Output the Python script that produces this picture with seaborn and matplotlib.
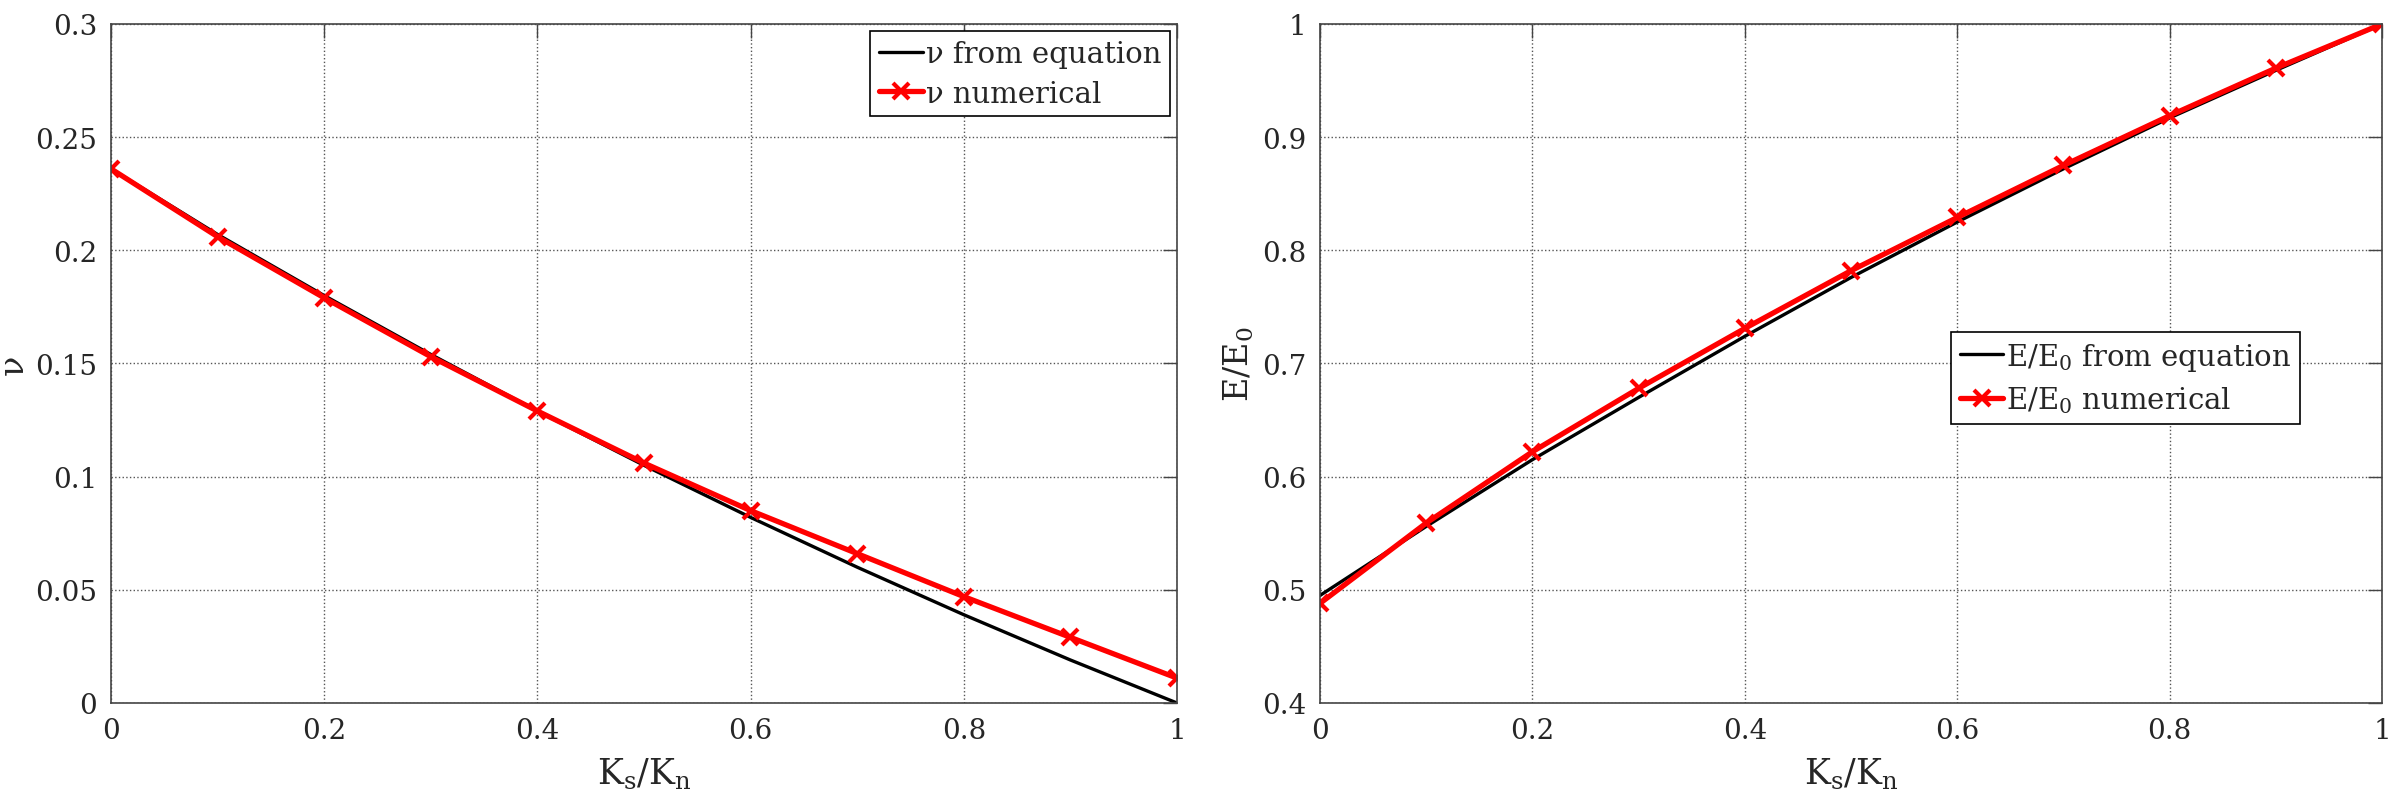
import numpy as np
import pandas as pd
import matplotlib.pyplot as plt
from matplotlib.ticker import FuncFormatter
import seaborn as sns

# Data
ks_kn = [0.0, 0.1, 0.2, 0.3, 0.4, 0.5, 0.6, 0.7, 0.8, 0.9, 1.0]
nu_equation = [0.236, 0.207, 0.180, 0.154, 0.129, 0.105, 0.082, 0.060, 0.039, 0.019, 0.0]
nu_numerical = [0.236, 0.206, 0.179, 0.153, 0.129, 0.106, 0.085, 0.066, 0.047, 0.029, 0.011]
e_equation = [0.495, 0.556, 0.615, 0.670, 0.724, 0.776, 0.825, 0.872, 0.917, 0.959, 1.0]
e_numerical = [0.488, 0.559, 0.622, 0.678, 0.731, 0.782, 0.829, 0.875, 0.919, 0.961, 1.0]

sns.set_style("white")
plt.rcParams["font.family"] = ["DejaVu Serif"]
plt.rcParams["mathtext.fontset"] = "dejavuserif"
plt.rcParams["font.size"] = 20

df = pd.DataFrame({
    "k": ks_kn,
    "nu_eq": nu_equation,
    "nu_num": nu_numerical,
    "e_eq": e_equation,
    "e_num": e_numerical,
})

fig = plt.figure(figsize=(24.03, 8.03), dpi=100)
ax1 = fig.add_axes([0.0462, 0.1233, 0.4436, 0.8456])
ax2 = fig.add_axes([0.5493, 0.1233, 0.4420, 0.8456])

fmt = FuncFormatter(lambda v, p: "%g" % round(v, 4))


def style_axis(ax, yticks):
    ax.set_xlim(0, 1)
    ax.set_xticks(np.arange(0, 1.01, 0.2))
    ax.set_ylim(yticks[0], yticks[-1])
    ax.set_yticks(yticks)
    ax.xaxis.set_major_formatter(fmt)
    ax.yaxis.set_major_formatter(fmt)
    ax.grid(True, linestyle=":", color="#555555", linewidth=1.0)
    ax.tick_params(direction="in", length=10, width=1, color="#444444",
                   top=True, right=True, labelsize=20, pad=10)
    for s in ax.spines.values():
        s.set_color("#444444")
        s.set_linewidth(1.2)
    ax.set_xlabel(r"$\mathregular{K_s/K_n}$", fontsize=25, labelpad=9)


# Poisson's ratio
sns.lineplot(data=df, x="k", y="nu_eq", ax=ax1, color="black", linewidth=2.4,
             label="ν from equation")
sns.lineplot(data=df, x="k", y="nu_num", ax=ax1, color="red", linewidth=3.8,
             marker="x", markersize=11, markeredgewidth=3, markeredgecolor="red",
             label="ν numerical")
style_axis(ax1, np.round(np.arange(0, 0.301, 0.05), 2))
ax1.set_ylabel("ν", fontsize=24, labelpad=4)
leg1 = ax1.legend(loc="upper right", borderaxespad=0.25, fontsize=21,
                  handlelength=1.5, handletextpad=0.1, borderpad=0.3,
                  labelspacing=0.4, fancybox=False, framealpha=1,
                  edgecolor="black")
leg1.get_frame().set_linewidth(1.2)

# Young's modulus ratio
sns.lineplot(data=df, x="k", y="e_eq", ax=ax2, color="black", linewidth=2.4,
             label=r"$\mathregular{E/E_0}$ from equation")
sns.lineplot(data=df, x="k", y="e_num", ax=ax2, color="red", linewidth=3.8,
             marker="x", markersize=11, markeredgewidth=3, markeredgecolor="red",
             label=r"$\mathregular{E/E_0}$ numerical")
style_axis(ax2, np.round(np.arange(0.4, 1.001, 0.1), 1))
ax2.set_ylabel(r"$\mathregular{E/E_0}$", fontsize=24, labelpad=4)
leg2 = ax2.legend(loc="lower right", bbox_to_anchor=(0.923, 0.411),
                  borderaxespad=0, fontsize=21, handlelength=1.5,
                  handletextpad=0.1, borderpad=0.3, labelspacing=0.4,
                  fancybox=False, framealpha=1, edgecolor="black")
leg2.get_frame().set_linewidth(1.2)

fig.savefig("out.png", dpi=100)
